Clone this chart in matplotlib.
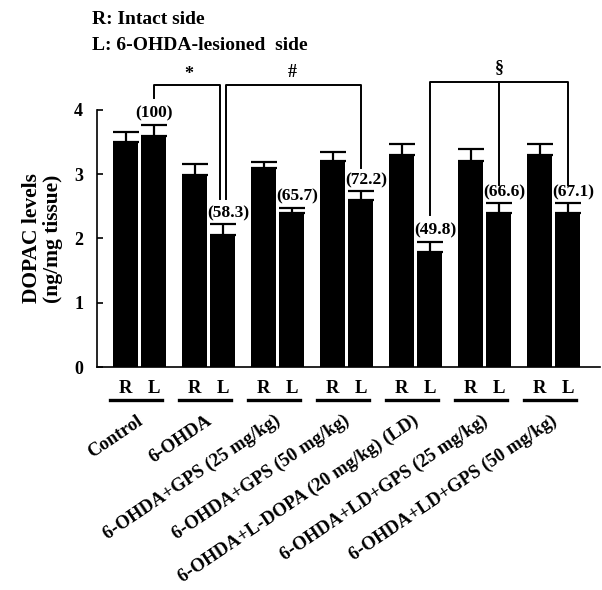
import numpy as np
import matplotlib
matplotlib.use("Agg")
import matplotlib.pyplot as plt

groups = ["Control", "6-OHDA", "6-OHDA+GPS (25 mg/kg)", "6-OHDA+GPS (50 mg/kg)",
          "6-OHDA+L-DOPA (20 mg/kg) (LD)", "6-OHDA+LD+GPS (25 mg/kg)",
          "6-OHDA+LD+GPS (50 mg/kg)"]
right_vals = [3.50, 2.99, 3.09, 3.20, 3.30, 3.20, 3.30]
right_err = [0.16, 0.17, 0.10, 0.14, 0.17, 0.19, 0.17]
left_vals = [3.60, 2.05, 2.39, 2.60, 1.79, 2.39, 2.39]
left_err = [0.17, 0.17, 0.09, 0.14, 0.16, 0.16, 0.16]
pct_labels = ["(100)", "(58.3)", "(65.7)", "(72.2)", "(49.8)", "(66.6)", "(67.1)"]

plt.rcParams["font.family"] = ["Liberation Serif", "DejaVu Serif"]
plt.rcParams["font.weight"] = "bold"

fig = plt.figure(figsize=(6.02, 5.90), dpi=100)
ax = fig.add_axes([97 / 602, 223 / 590, 503 / 602, 257 / 590])

x = np.arange(len(groups))
off = 0.205
w = 0.36
xr, xl = x - off, x + off

ekw = dict(ecolor="black", elinewidth=1.6, capsize=9.5, capthick=1.6)
ax.bar(xr, right_vals, w, color="black",
       yerr=[np.zeros(len(x)), right_err], error_kw=ekw)
ax.bar(xl, left_vals, w, color="black",
       yerr=[np.zeros(len(x)), left_err], error_kw=ekw)

for i, (xi, v, e, t) in enumerate(zip(xl, left_vals, left_err, pct_labels)):
    dx = 0 if i == 0 else 0.08
    ax.text(xi + dx, v + e + 0.17, t, ha="center", va="center", fontsize=12.5,
            fontweight="bold", clip_on=False)

ax.set_xlim(-0.618, 6.67)
ax.set_ylim(0, 4)
ax.set_yticks([0, 1, 2, 3, 4])
ax.tick_params(axis="y", direction="in", length=4, width=1.2, labelsize=13, pad=10)
ax.set_xticks([])
for lab in ax.get_yticklabels():
    lab.set_fontweight("bold")
ax.spines["top"].set_visible(False)
ax.spines["right"].set_visible(False)
ax.spines["left"].set_linewidth(1.2)
ax.spines["bottom"].set_linewidth(1.2)

ax.set_ylabel("DOPAC levels\n(ng/mg tissue)", fontsize=15.5, fontweight="bold",
              labelpad=8, linespacing=1.05)

# significance brackets (outside the axes)
lk = dict(color="black", lw=1.4, clip_on=False)
ax.plot([xl[0], xl[0], xl[1] - 0.04, xl[1] - 0.04], [4.19, 4.39, 4.39, 2.62], **lk)
ax.plot([xl[1] + 0.04, xl[1] + 0.04, xl[3], xl[3]], [2.62, 4.39, 4.39, 3.1], **lk)
ax.plot([xl[4], xl[4], xl[6], xl[6]], [2.37, 4.44, 4.44, 2.83], **lk)
ax.plot([xl[5], xl[5]], [4.44, 2.83], **lk)
ax.text((xl[0] + xl[1]) / 2, 4.42, "*", ha="center", va="bottom", fontsize=13, fontweight="bold")
ax.text((xl[1] + xl[3]) / 2, 4.45, "#", ha="center", va="bottom", fontsize=13, fontweight="bold")
ax.text(xl[5], 4.53, "§", ha="center", va="bottom", fontsize=13, fontweight="bold")

# R / L labels with underline, and rotated group labels
for i in range(len(groups)):
    ax.text(xr[i], -0.33, "R", ha="center", va="center", fontsize=13.5,
            fontweight="bold", clip_on=False)
    ax.text(xl[i], -0.33, "L", ha="center", va="center", fontsize=13.5,
            fontweight="bold", clip_on=False)
    ax.plot([xr[i] - 0.22, xl[i] + 0.12], [-0.52, -0.52], color="black",
            lw=2.4, clip_on=False)
    ax.text(x[i] - 0.05, -0.7, groups[i], ha="right", va="top", rotation=34,
            rotation_mode="anchor", fontsize=13.5, fontweight="bold", clip_on=False)

fig.text(92 / 602, 1 - 19 / 590, "R: Intact side", ha="left", va="center",
         fontsize=14, fontweight="bold")
fig.text(92 / 602, 1 - 45 / 590, "L: 6-OHDA-lesioned  side", ha="left", va="center",
         fontsize=14, fontweight="bold")

fig.savefig("out.png", dpi=100)
